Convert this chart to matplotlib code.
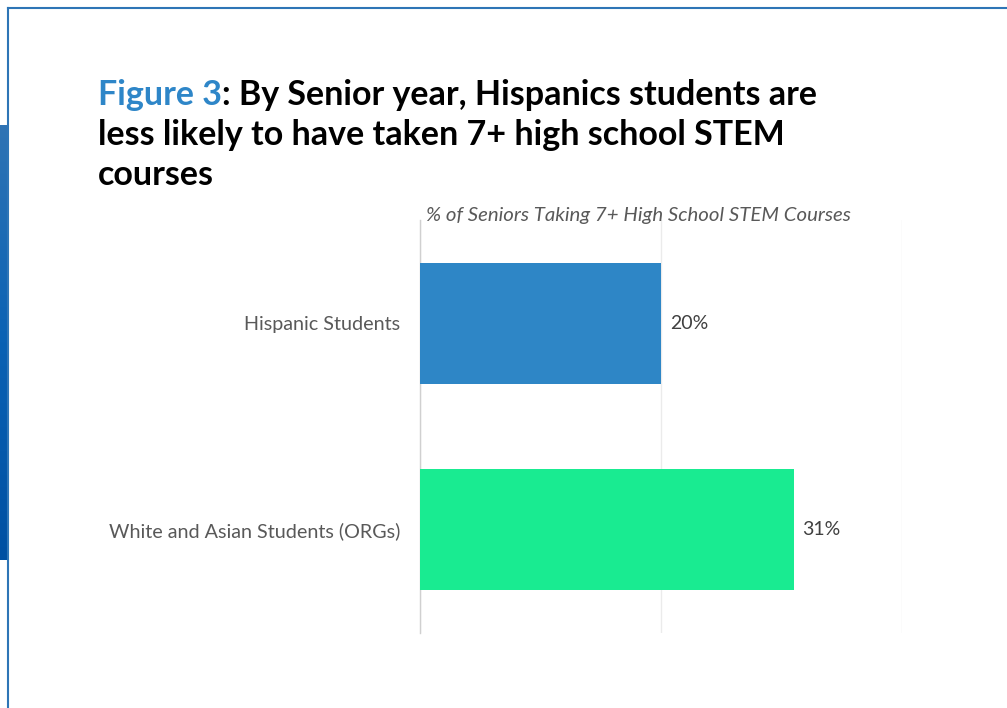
import matplotlib
matplotlib.use("Agg")
import matplotlib.pyplot as plt
import numpy as np
from matplotlib.lines import Line2D
from matplotlib.colors import LinearSegmentedColormap

# Data
categories = ["Hispanic Students", "White and Asian Students (ORGs)"]
values = [20, 31]
bar_colors = ["#2E86C6", "#19EB91"]
value_labels = ["20%", "31%"]

W, H = 1007, 708
DPI = 100
fig = plt.figure(figsize=(W / DPI, H / DPI), dpi=DPI)
fig.patch.set_facecolor("white")

font = "Lato"

# Slide frame: thin blue border along the top and left
frame_color = "#2E75B6"
fig.add_artist(Line2D([8 / W, 8 / W], [0, 1 - 8 / H], transform=fig.transFigure,
                      color=frame_color, lw=1.5))
fig.add_artist(Line2D([8 / W, 1], [1 - 8 / H, 1 - 8 / H], transform=fig.transFigure,
                      color=frame_color, lw=1.5))

# Blue gradient strip on the left edge
strip = fig.add_axes([0, 1 - 560 / H, 7 / W, (560 - 125) / H])
grad = np.linspace(0, 1, 256).reshape(-1, 1)
cmap = LinearSegmentedColormap.from_list("strip", ["#2F74B5", "#0A62B4", "#0050A2"])
strip.imshow(grad, aspect="auto", cmap=cmap)
strip.axis("off")

# Title
title_lines = [
    ("Figure 3", ": By Senior year, Hispanics students are"),
    ("", "less likely to have taken 7+ high school STEM"),
    ("", "courses"),
]
title_size = 24.5
baselines = [105, 145, 185]
for (blue, black), yb in zip(title_lines, baselines):
    y = 1 - yb / H
    if blue:
        t = fig.text(98 / W, y, blue, color="#2E86C8", fontsize=title_size,
                     fontweight="bold", family=font, va="baseline", ha="left")
        fig.canvas.draw()
        bb = t.get_window_extent()
        fig.text(bb.x1 / W, y, black, color="black", fontsize=title_size,
                 fontweight="bold", family=font, va="baseline", ha="left")
    else:
        fig.text(98 / W, y, black, color="black", fontsize=title_size,
                 fontweight="bold", family=font, va="baseline", ha="left")

# Chart area
ax = fig.add_axes([420 / W, 1 - 633 / H, 482 / W, 413 / H])
y_pos = np.arange(len(categories))
ax.barh(y_pos, values, height=0.586, color=bar_colors, zorder=3)
ax.set_ylim(len(categories) - 0.5, -0.5)
ax.set_xlim(0, 40)
ax.set_xticks([0, 20, 40])
ax.set_xticklabels([])
ax.tick_params(axis="x", length=0)
ax.grid(axis="x", color="#EBEBEB", lw=1, zorder=0)
ax.set_yticks(y_pos)
ax.set_yticklabels(categories, family=font, fontsize=14.2, color="#595959")
ax.tick_params(axis="y", length=0, pad=14.4)
for s in ["top", "right", "bottom"]:
    ax.spines[s].set_visible(False)
ax.spines["left"].set_color("#D0D0D0")
ax.spines["left"].set_linewidth(1)

for yp, v, lab in zip(y_pos, values, value_labels):
    ax.annotate(lab, xy=(v, yp), xytext=(9, 0), textcoords="offset pixels",
                va="center", ha="left", family=font, fontsize=14, color="#404040")

fig.text(638 / W, 1 - 215 / H, "% of Seniors Taking 7+ High School STEM Courses",
         ha="center", va="center", style="italic", family=font, fontsize=14.7,
         color="#595959")

fig.savefig("out.png", dpi=DPI, facecolor="white")
